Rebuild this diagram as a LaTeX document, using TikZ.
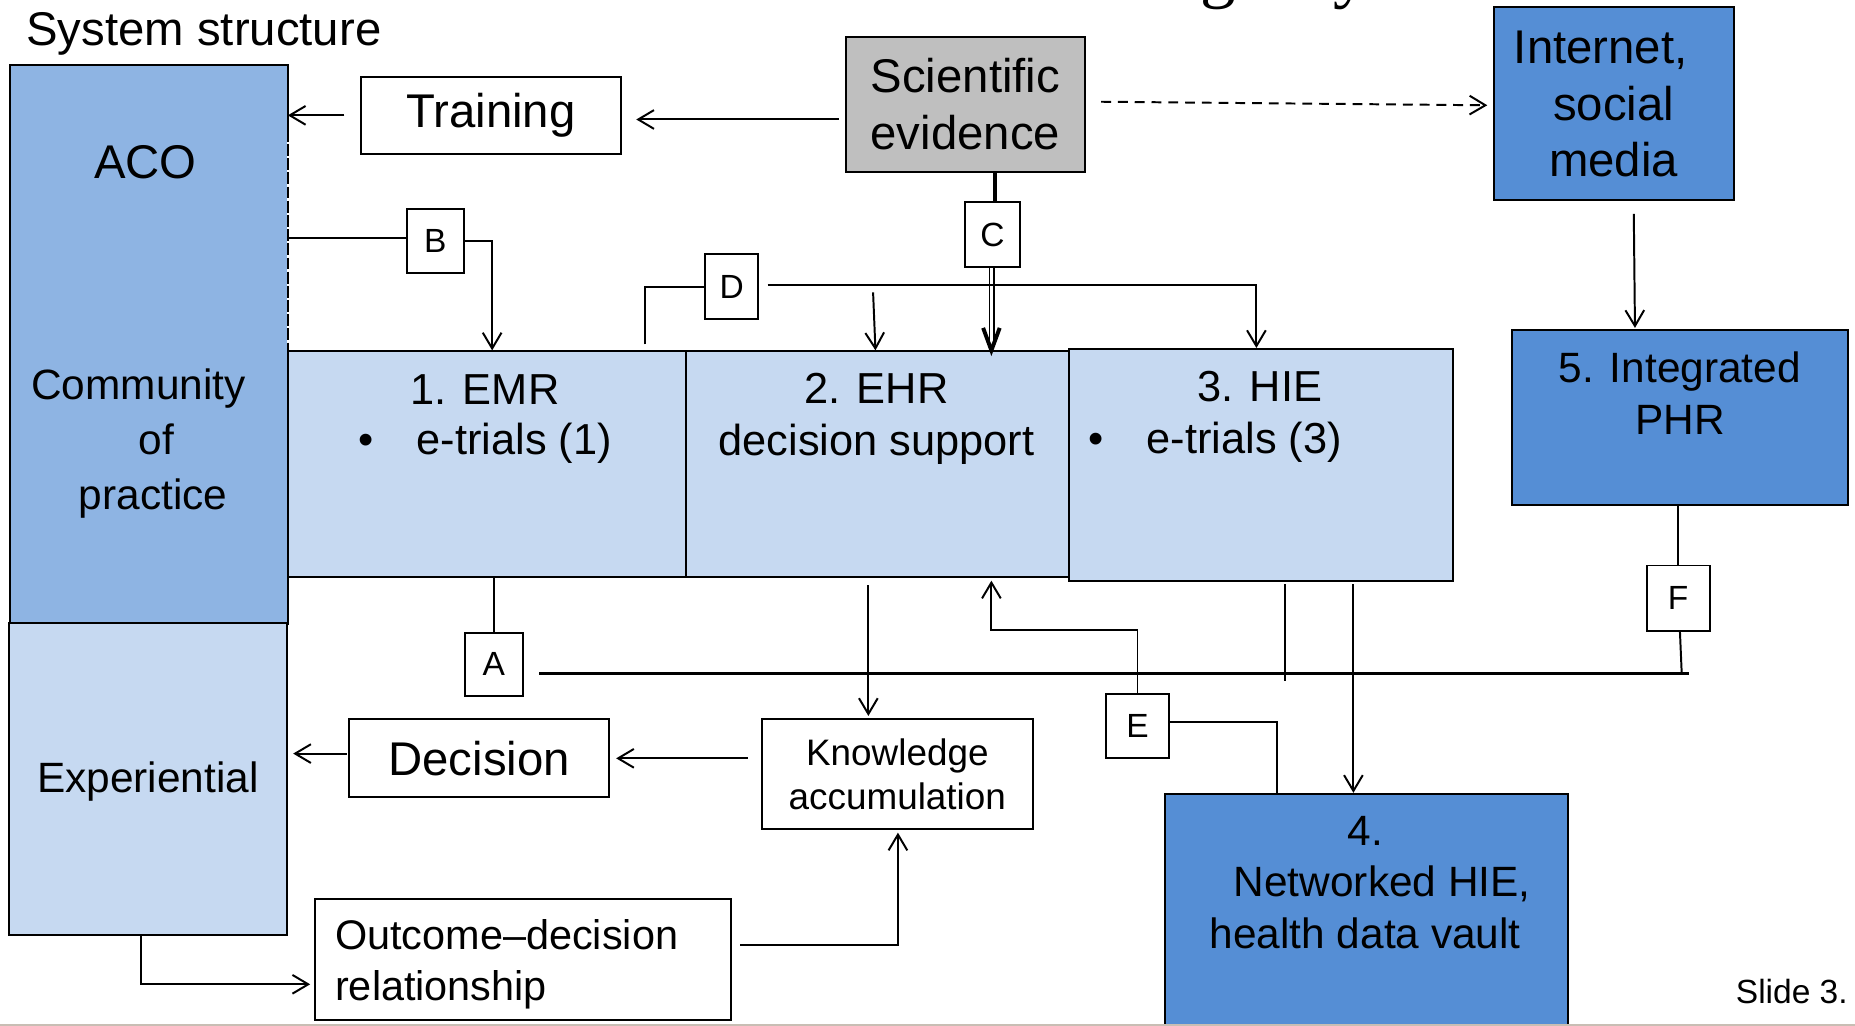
\documentclass[tikz,border=0pt]{standalone}
\usepackage{fontspec}
\setmainfont{Liberation Sans}
\newfontfamily\titleserif{Liberation Serif}
\usetikzlibrary{arrows.meta,calc}
\definecolor{acoblue}{RGB}{142,180,227}
\definecolor{lightblue}{RGB}{198,217,241}
\definecolor{strongblue}{RGB}{85,142,213}
\definecolor{sgray}{RGB}{191,191,191}
\definecolor{slideline}{RGB}{200,190,180}
\begin{document}
\begin{tikzpicture}[x=0.6pt,y=-0.6pt,
 conn/.style={line width=1pt},
 arr/.style={conn,-{Straight Barb[length=8pt,width=9.5pt,line width=1pt]}},
 box/.style={draw,line width=1pt,inner sep=0pt,align=center},
 lbl/.style={box,font=\fontsize{17}{17}\selectfont},
 txt/.style={inner sep=0pt,align=center},
 big/.style={font=\fontsize{24}{28.8}\selectfont},
 mid/.style={font=\fontsize{21.5}{26.4}\selectfont},
 rowtxt/.style={font=\fontsize{22}{26.4}\selectfont},
]
\useasboundingbox (0,0) rectangle (1568,867);
\clip (0,0) rectangle (1568,867);
\fill[white] (0,0) rectangle (1568,867);

% title fragments cut off at the top of the slide
\node[inner sep=0pt,anchor=base] (tg) at (1030,-5) {\titleserif\fontsize{36}{36}\selectfont g};
\node[inner sep=0pt,anchor=base] (ty) at (1142,-5) {\titleserif\fontsize{36}{36}\selectfont y};

\node[txt,anchor=west,font=\fontsize{24}{28}\selectfont] (sys) at (22,29) {System structure};

% row boxes
\node[box,fill=lightblue,minimum width=202.2pt,minimum height=114.6pt] (EMR) at (411.5,392.5) {};
\node[box,fill=lightblue,minimum width=194.4pt,minimum height=114.6pt] (EHR) at (742,392.5) {};
\node[box,fill=lightblue,minimum width=194.4pt,minimum height=117.6pt] (HIE) at (1066,393) {};

% ACO column
\node[fill=acoblue,inner sep=0pt,minimum width=140.4pt,minimum height=283.2pt] (ACO) at (126,291) {};
\draw[line width=1pt] ($(ACO.north east)+(0,55)$) -- (ACO.north east) -- (ACO.north west) -- (ACO.south west) -- (ACO.south east) -- ($(ACO.north east)+(0,242)$);
\draw[line width=1pt,dash pattern=on 6pt off 1.2pt] ($(ACO.north east)+(0,55)$) -- ($(ACO.north east)+(0,242)$);
\node[box,fill=lightblue,minimum width=141pt,minimum height=157.8pt] (Exp) at (125.5,658.5) {};
\node[txt,mid] (expT) at (125,661) {Experiential};

\node[txt,big] (acoT) at (123,137) {ACO};
\node[txt,font=\fontsize{21.5}{27.9}\selectfont] (copT) at (117,375) {Community\\\hspace*{18pt}of\\\hspace*{15pt}practice};

% top boxes
\node[box,big,minimum width=132pt,minimum height=39pt] (Training) at (415,97.5) {Training};
\node[box,big,fill=sgray,minimum width=121.2pt,minimum height=68.4pt] (Sci) at (816,88) {Scientific\\evidence};
\node[box,fill=strongblue,minimum width=121.8pt,minimum height=97.8pt] (Internet) at (1364.5,87.5) {};
\node[txt,big] (intT) at (1353,88) {Internet,\\\hspace*{0.55em}social\\\hspace*{0.55em}media};
\node[box,fill=strongblue,minimum width=170.4pt,minimum height=88.8pt] (PHR) at (1420,353) {};
\node[txt,mid] (phrT) at (1420,332) {5. Integrated\\PHR};

% row texts
\node[txt,rowtxt] (emr1) at (410,329) {1. EMR};
\node[txt,rowtxt] (emr2) at (410,375) {\textbullet\hspace{22pt}e-trials (1)};
\node[txt,rowtxt] (ehrT) at (741,354) {2. EHR\\decision support};
\node[txt,rowtxt] (hie1) at (1065,327) {3. HIE};
\node[txt,rowtxt] (hie2) at (1027,374) {\textbullet\hspace{22pt}e-trials (3)};

% networked box
\node[box,fill=strongblue,minimum width=204pt,minimum height=122.4pt] (Net) at (1155,773) {};
\node[txt,font=\fontsize{21.5}{26}\selectfont] (netT) at (1154,746) {4.\\\hspace*{0.8em}Networked HIE,\\health data vault};

% bottom boxes
\node[box,big,minimum width=132pt,minimum height=39.6pt] (Decision) at (405,641) {Decision};
\node[box,font=\fontsize{18.7}{22.8}\selectfont,minimum width=137.4pt,minimum height=55.8pt] (Know) at (758.5,654.5) {Knowledge\\accumulation};
\node[box,minimum width=211.2pt,minimum height=61.2pt] (Outcome) at (442,811) {};
\node[txt,anchor=west,align=left,font=\fontsize{21}{25.8}\selectfont] (outT) at (283,815) {Outcome--decision\\relationship};

% letter boxes
\node[lbl,minimum width=29.4pt,minimum height=31.8pt] (A) at (417.5,561.5) {A};
\node[lbl,minimum width=28.8pt,minimum height=32.4pt] (B) at (368,204) {B};
\node[lbl,minimum width=27.6pt,minimum height=33pt] (C) at (839,198.5) {C};
\node[lbl,minimum width=27pt,minimum height=33pt] (D) at (618.5,242.5) {D};
\node[lbl,minimum width=31.8pt,minimum height=32.4pt] (E) at (961.5,614) {E};
\node[lbl,minimum width=31.8pt,minimum height=33pt] (F) at (1418.5,505.5) {F};

\node[txt,anchor=west,font=\fontsize{17}{17}\selectfont] (slide) at (1467,838) {Slide 3.};

% connectors
\draw[arr] ($(Training.west)+(-13,0)$) -- (ACO.east |- Training.west);
\draw[arr] ($(Sci.west)+(-5,13)$) -- ($(Training.east)+(12,3.5)$);
\draw[arr,dash pattern=on 5pt off 3.5pt] ($(Sci.east)+(13,-2)$) -- ($(Internet.west)+(-5,1.5)$);
\draw[arr] ($(Internet.south)+(16.5,11)$) -- ($(PHR.north)+(-38,-1)$);

% C
\draw[line width=2.4pt] ($(Sci.south)+(25,0)$) -- ($(C.north)+(2,0)$);
\coordinate (ctip) at ($(C.south |- EHR.north)+(-1,0)$);
\draw[line width=0.8pt] ($(C.south)+(-2.5,0)$) -- ($(ctip)+(-1.5,-3)$);
\draw[line width=0.8pt] ($(C.south)+(1,0)$) -- ($(ctip)+(2,-3)$);
\draw[line width=2pt,line join=miter] ($(ctip)+(-7,-19)$) -- (ctip) -- ($(ctip)+(7,-19)$);

% B
\draw[conn] ($(ACO.east |- B.west)+(0,-3)$) -- ($(B.west)+(0,-3)$);
\draw[arr] (B.east) -| ($(EMR.north)+(4.5,0)$);

% D
\draw[conn] ($(EMR.north)+(133.5,-5)$) |- (D.west);
\draw[arr] ($(D.east)+(7,-2)$) -| ($(HIE.north)+(-4,0)$);
\draw[arr] ($(EHR.north)+(-4,-49)$) -- ($(EHR.north)+(-2,0)$);

% A and F
\coordinate (Aend) at (1428,569);
\draw[conn] (EMR.south -| A.north) -- (A.north);
\draw[line width=1.4pt] ($(A.east)+(13,7.5)$) -- (Aend);
\draw[conn] (PHR.south -| F.north) -- (F.north);
\draw[conn] ($(F.south)+(1.5,0)$) -- ($(F.south |- Aend)+(3,0)$);

% HIE bottom
\draw[conn] ($(HIE.south)+(20,2)$) -- ($(HIE.south)+(20,84)$);
\draw[arr] ($(HIE.south)+(78,2)$) -- ($(Net.north)+(-11,0)$);

% E
\draw[arr] (E.north) -- ($(E.north)+(0,-54)$) -| ($(EHR.south)+(96,2)$);
\draw[conn] ($(E.east)+(0,-4)$) -| ($(Net.north)+(-76,0)$);

% lower loop
\draw[arr] ($(EHR.south)+(-8,6)$) -- ($(Know.north)+(-24.5,-2)$);
\draw[arr] ($(Know.west)+(-11,-13.5)$) -- ($(Decision.east)+(5,0)$);
\draw[arr] ($(Decision.west)+(-1,-4)$) -- ($(Exp.east |- Decision.west)+(4,-4)$);
\draw[arr] ($(Exp.south)+(-6.5,0)$) |- ($(Outcome.west)+(-3,21)$);
\draw[arr] ($(Outcome.east)+(7,-12)$) -| ($(Know.south)+(0.5,2)$);

% slide border
\draw[slideline,line width=1pt] (0,866) -- (1568,866);
\end{tikzpicture}
\end{document}
